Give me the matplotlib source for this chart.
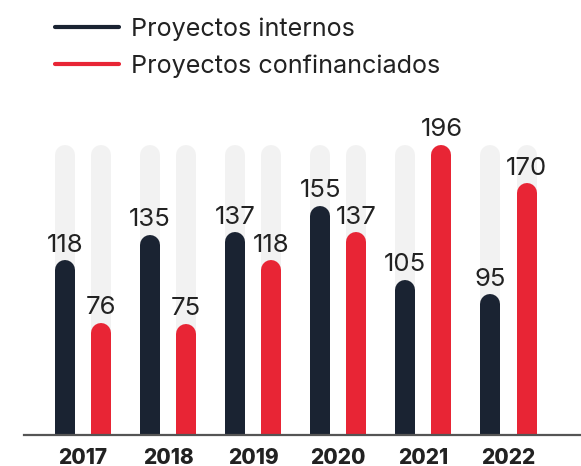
import matplotlib
matplotlib.use("Agg")
import matplotlib.pyplot as plt
from matplotlib.lines import Line2D
import numpy as np

plt.rcParams['font.family'] = ['Inter', 'DejaVu Sans']

years = ["2017", "2018", "2019", "2020", "2021", "2022"]
internos = [118, 135, 137, 155, 105, 95]
cofinanciados = [76, 75, 118, 137, 196, 170]
series_names = ["Proyectos internos", "Proyectos confinanciados"]

NAVY = "#1a2332"
RED = "#e82535"
TRACK = "#f2f2f2"
TEXT = "#222222"

W, H, DPI = 5.81, 4.66, 100
fig = plt.figure(figsize=(W, H), dpi=DPI)

# axes box in pixels: left 24, baseline at y=435 (from top), up to the top edge
ax = fig.add_axes([24 / 581, 31 / 466, 556 / 581, 435 / 466])
px_per_unit = 1.48
ymax = 435 / px_per_unit
ax.set_ylim(0, ymax)
group_px = 85.1
ax.set_xlim((24 - 83) / group_px, (580 - 83) / group_px)

bar_px = 20
lw_pt = bar_px * 72 / DPI
cap = (bar_px / 2) / px_per_unit   # round cap height in data units
offset = 18 / group_px
track_top = max(max(internos), max(cofinanciados))

x = np.arange(len(years))


def rounded_bar(xpos, value, color, z):
    ax.plot([xpos, xpos], [-20, value - cap], color=color, lw=lw_pt,
            solid_capstyle="round", zorder=z)


for i in x:
    for dx, val, col in [(-offset, internos[i], NAVY), (offset, cofinanciados[i], RED)]:
        rounded_bar(i + dx, track_top, TRACK, 1)
        rounded_bar(i + dx, val, col, 2)
        ax.text(i + dx, val + 2.5, str(val), ha="center", va="bottom",
                fontsize=18.5, color=TEXT, zorder=3)

for s in ["top", "right", "left"]:
    ax.spines[s].set_visible(False)
ax.spines["bottom"].set_color("#555555")
ax.spines["bottom"].set_linewidth(1.6)
ax.spines["bottom"].set_zorder(4)
ax.set_yticks([])
ax.set_xticks(x)
ax.set_xticklabels(years, fontsize=15, fontweight="heavy", color=TEXT)
ax.tick_params(axis="x", length=0, pad=9)

handles = [Line2D([], [], color=NAVY, lw=3, solid_capstyle="round"),
           Line2D([], [], color=RED, lw=3, solid_capstyle="round")]
leg = fig.legend(handles, series_names, loc="upper left",
                 bbox_to_anchor=(37 / 581, 1 - 0 / 466), frameon=False,
                 fontsize=18.1, handlelength=2.55, handletextpad=0.47,
                 labelspacing=0.52, borderpad=0.2)
for t in leg.get_texts():
    t.set_color(TEXT)

fig.savefig("out.png", dpi=DPI)
